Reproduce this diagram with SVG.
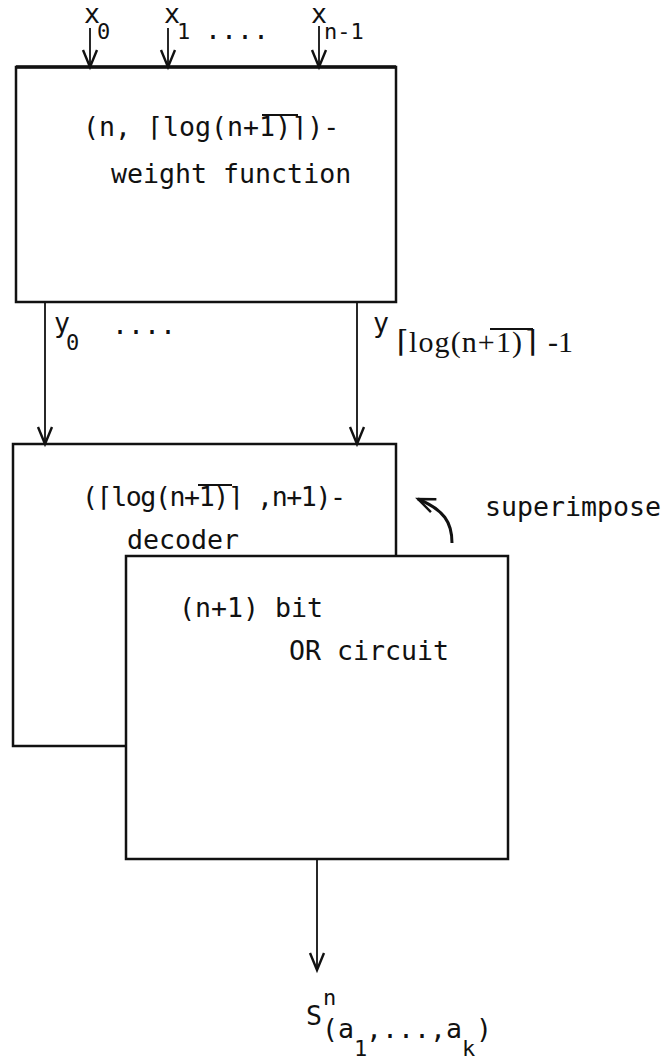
<svg xmlns="http://www.w3.org/2000/svg" width="667" height="1064" viewBox="0 0 667 1064">
  <style>
    .tw { font-family: "DejaVu Sans Mono", "Liberation Mono", monospace; font-size: 26.6px; fill: #111; }
    .sm { font-size: 22px; }
    .ser { font-family: "Liberation Serif", "DejaVu Serif", serif; font-size: 30px; fill: #111; }
    .box { fill: #fff; stroke: #111; stroke-width: 2.5; }
    .wire { fill: none; stroke: #111; stroke-width: 1.8; }
    .bar { stroke: #111; stroke-width: 2; }
  </style>
  <defs>
    <marker id="vee" markerUnits="userSpaceOnUse" viewBox="-20 -10 24 20" refX="0" refY="0" markerWidth="24" markerHeight="20" orient="auto">
      <path d="M-17,-7 L0,0 L-17,7" fill="none" stroke="#111" stroke-width="2.4" stroke-linejoin="miter"/>
    </marker>
  </defs>

  <!-- weight function block -->
  <g id="weight">
    <rect class="box" x="16" y="67" width="380" height="235"/>
    <line x1="16" y1="67" x2="396" y2="67" stroke="#111" stroke-width="3.5"/>
    <text class="tw" x="83" y="136">(n, ⌈log(n+1)⌉)-</text>
    <line class="bar" x1="262" y1="115" x2="298" y2="115"/>
    <text class="tw" x="111" y="183">weight function</text>
  </g>

  <!-- decoder block -->
  <g id="decoder">
    <rect class="box" x="13" y="444" width="383" height="302"/>
    <text class="tw" x="82" y="506" textLength="264" lengthAdjust="spacing">(⌈log(n+1)⌉ ,n+1)-</text>
    <line class="bar" x1="198" y1="485" x2="232" y2="485"/>
    <text class="tw" x="127" y="549">decoder</text>
  </g>

  <!-- OR circuit block, laid over the decoder -->
  <g id="orcircuit">
    <rect class="box" x="126" y="556" width="382" height="303"/>
    <text class="tw" x="179" y="617">(n+1) bit</text>
    <text class="tw" x="289" y="660">OR circuit</text>
  </g>

  <!-- superimpose note -->
  <g id="superimpose">
    <text class="tw" x="485" y="516">superimpose</text>
  </g>

  <!-- connectors -->
  <g id="connectors">
    <line class="wire" x1="90" y1="28" x2="90" y2="67" marker-end="url(#vee)"/>
    <line class="wire" x1="168" y1="28" x2="168" y2="67" marker-end="url(#vee)"/>
    <line class="wire" x1="319" y1="26" x2="319" y2="67" marker-end="url(#vee)"/>
    <line class="wire" x1="45" y1="302" x2="45" y2="444" marker-end="url(#vee)"/>
    <line class="wire" x1="357" y1="302" x2="357" y2="444" marker-end="url(#vee)"/>
    <line class="wire" x1="317" y1="859" x2="317" y2="970" marker-end="url(#vee)"/>
    <path d="M452,543 C452,522 444,510 418,499" fill="none" stroke="#111" stroke-width="3" marker-end="url(#vee)"/>
  </g>

  <!-- input labels -->
  <g id="inputs">
    <text class="tw" x="84" y="23" font-size="19">x</text>
    <text class="tw sm" x="97" y="39">0</text>
    <text class="tw" x="164" y="23" font-size="19">x</text>
    <text class="tw sm" x="177" y="39">1</text>
    <text class="tw" x="205" y="39">....</text>
    <text class="tw" x="311" y="23" font-size="19">x</text>
    <text class="tw sm" x="324" y="39">n-1</text>
  </g>

  <!-- weight outputs -->
  <g id="ylabels">
    <text class="tw" x="54" y="332" font-size="24">y</text>
    <text class="tw sm" x="66" y="350">0</text>
    <text class="tw" x="112" y="334">....</text>
    <text class="tw" x="373" y="332" font-size="24">y</text>
    <text class="ser" y="352"><tspan x="397">⌈</tspan><tspan x="409" textLength="113" lengthAdjust="spacing">log(n+1)</tspan><tspan x="525">⌉</tspan><tspan x="548">-1</tspan></text>
    <line class="bar" x1="490" y1="329" x2="533" y2="329"/>
  </g>

  <!-- result -->
  <g id="result">
    <text class="tw" x="306" y="1025">S</text>
    <text class="tw sm" x="323" y="1005">n</text>
    <text class="tw" x="322" y="1038">(a</text>
    <text class="tw sm" x="354" y="1056">1</text>
    <text class="tw" x="366" y="1038">,...,a</text>
    <text class="tw sm" x="462" y="1056">k</text>
    <text class="tw" x="476" y="1038">)</text>
  </g>
</svg>
